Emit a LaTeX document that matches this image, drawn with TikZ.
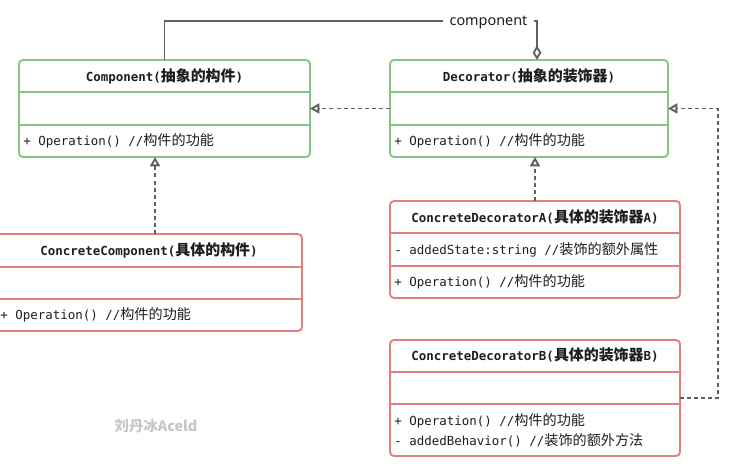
\documentclass[tikz,border=0pt]{standalone}
\usepackage{fontspec}
\setmainfont{Noto Sans}
\setmonofont{DejaVu Sans Mono}
\newfontfamily\cjk{Noto Sans CJK SC}
\usetikzlibrary{arrows.meta}
\definecolor{ugreen}{RGB}{130,199,134}
\definecolor{ured}{RGB}{226,128,128}
\definecolor{conn}{RGB}{96,96,96}
\definecolor{txtc}{RGB}{30,30,30}
\definecolor{wmark}{RGB}{198,198,204}
\newcommand\zh[1]{{\cjk\fontsize{10.6pt}{12pt}\selectfont #1}}
\newcommand\zt[1]{{\cjk\fontsize{11.2pt}{12pt}\selectfont #1}}
\newcommand\mt{\ttfamily\fontsize{9.35pt}{11pt}\selectfont}
\def\px{0.75pt}
\tikzset{
  umlbox/.style={rectangle, draw, line width=1.4pt, rounded corners=3pt, inner sep=0pt, outer sep=0pt, anchor=north west, fill=white},
  gbox/.style={umlbox, draw=ugreen},
  rbox/.style={umlbox, draw=ured},
  gsep/.style={draw=ugreen, line width=1.4pt},
  rsep/.style={draw=ured, line width=1.4pt},
  ttl/.style={inner sep=0pt, text=txtc, font=\mt\bfseries},
  mem/.style={inner sep=0pt, anchor=west, text=txtc, font=\mt},
  conline/.style={draw=conn, line width=1.4pt},
  realize/.style={conline, dash pattern=on 3pt off 2.3pt, -{Triangle[open, length=7pt, width=7.5pt]}},
}
\begin{document}
\begin{tikzpicture}[x=\px, y=-\px]
\useasboundingbox (0,0) rectangle (731,467);
\fill[white] (0,0) rectangle (731,467);

% boxes
\node[gbox, minimum width=291*\px, minimum height=97*\px] (comp) at (19,60) {};
\node[gbox, minimum width=278*\px, minimum height=97*\px] (deco) at (390,60) {};
\node[rbox, minimum width=306*\px, minimum height=97*\px] (cc) at (-4,234) {};
\node[rbox, minimum width=290*\px, minimum height=97*\px] (da) at (390,201) {};
\node[rbox, minimum width=290*\px, minimum height=116*\px] (db) at (390,340) {};

% separators
\draw[gsep] (comp.west |- 0,92) -- (comp.east |- 0,92);
\draw[gsep] (comp.west |- 0,125) -- (comp.east |- 0,125);
\draw[gsep] (deco.west |- 0,92) -- (deco.east |- 0,92);
\draw[gsep] (deco.west |- 0,125) -- (deco.east |- 0,125);
\draw[rsep] (cc.west |- 0,267) -- (cc.east |- 0,267);
\draw[rsep] (cc.west |- 0,299) -- (cc.east |- 0,299);
\draw[rsep] (da.west |- 0,233) -- (da.east |- 0,233);
\draw[rsep] (da.west |- 0,266) -- (da.east |- 0,266);
\draw[rsep] (db.west |- 0,372) -- (db.east |- 0,372);
\draw[rsep] (db.west |- 0,404) -- (db.east |- 0,404);

% texts
\node[ttl] (compt) at (164.5,76) {Component(\zt{抽象的构件})};
\node[mem] (compm) at (23,140.5) {+ Operation() //\zh{构件的功能}};
\node[ttl] (decot) at (529,76) {Decorator(\zt{抽象的装饰器})};
\node[mem] (decom) at (394,140.5) {+ Operation() //\zh{构件的功能}};
\node[ttl] (cct) at (149,250) {ConcreteComponent(\zt{具体的构件})};
\node[mem] (ccm) at (0,314.5) {+ Operation() //\zh{构件的功能}};
\node[ttl] (dat) at (535,216.5) {ConcreteDecoratorA(\zt{具体的装饰器}A)};
\node[mem] (daa) at (394,249.5) {- addedState:string //\zh{装饰的额外属性}};
\node[mem] (dam) at (394,281.5) {+ Operation() //\zh{构件的功能}};
\node[ttl] (dbt) at (535,355) {ConcreteDecoratorB(\zt{具体的装饰器}B)};
\node[mem] (dbm1) at (394,421) {+ Operation() //\zh{构件的功能}};
\node[mem] (dbm2) at (394,440.5) {- addedBehavior() //\zh{装饰的额外方法}};

% connectors
\coordinate (ccup) at ([xshift=6*\px]cc.north);
\coordinate (agg) at ([xshift=8*\px]deco.north);
\draw[realize] (deco.west) -- (comp.east);
\draw[realize] (ccup) -- (ccup |- comp.south);
\draw[realize] (da.north) -- (da.north |- deco.south);
\draw[realize] (db.east) -- ++(38,0) |- (deco.east);
\draw[conline, {Diamond[open, length=11pt, width=6.5pt]}-] (agg) -- ++(0,-39) -| (comp.north);
\node[fill=white, inner sep=0pt, minimum width=91*\px, minimum height=16*\px, text=txtc, font=\fontsize{10.8pt}{12pt}\selectfont] (lbl) at (488.5,22) {component};

% watermark
\node[inner sep=0pt, text=wmark, font=\cjk\bfseries\fontsize{10.8pt}{12pt}\selectfont] (wm) at (156,425.5) {刘丹冰Aceld};
\end{tikzpicture}
\end{document}
